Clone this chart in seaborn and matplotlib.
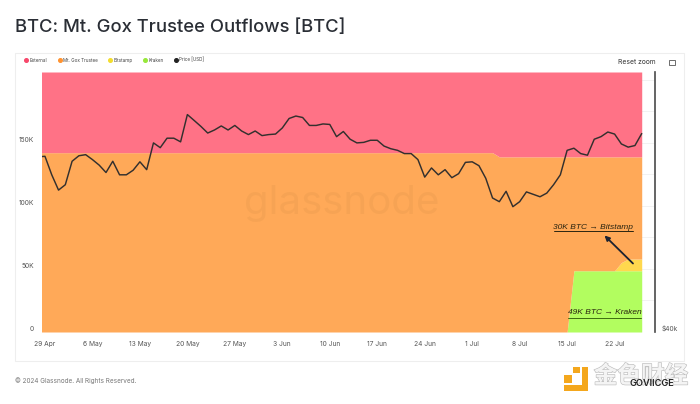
import matplotlib
matplotlib.use("Agg")
import matplotlib.pyplot as plt
from matplotlib.lines import Line2D
from matplotlib.patches import Rectangle
import matplotlib.patheffects as pe
import seaborn as sns
import pandas as pd

dates = pd.date_range("2024-04-28", "2024-07-26", freq="D")
price_k = [65.3, 65.4, 62.1, 59.5, 60.4, 64.5, 65.5, 65.7, 64.8, 63.8, 62.5, 64.5, 62.1, 62.1, 62.9, 64.4, 63.0,
           67.9, 67.0, 68.8, 68.8, 68.1, 73.5, 72.3, 71.1, 69.8, 70.4, 71.2, 70.4, 71.3, 70.2, 69.5, 70.2, 69.3,
           69.5, 69.6, 70.8, 72.7, 73.2, 72.9, 71.3, 71.3, 71.6, 71.5, 69.1, 70.1, 68.6, 67.9, 68.0, 68.4, 68.4,
           67.3, 66.8, 66.5, 65.9, 65.9, 64.8, 61.7, 63.3, 62.1, 63.0, 61.6, 62.3, 64.3, 64.4, 63.7, 61.5, 58.2,
           57.6, 59.3, 56.8, 57.6, 59.2, 58.8, 58.4, 59.0, 60.4, 62.1, 66.5, 66.9, 65.9, 65.6, 68.6, 69.1, 70.0,
           69.6, 67.7, 67.1, 67.4, 69.7]
kraken_k = [0.0] * 79 + [48.6] * 11
bitstamp_k = [0.0] * 86 + [6.5, 9.3, 9.3, 9.3]
gox_k = [142.3] * 68 + [139.0] * 11 + [90.4] * 7 + [83.9, 81.1, 81.1, 81.1]
external_k = [64.0] * 68 + [67.3] * 22

x_ticks = pd.date_range("2024-04-29", "2024-07-22", freq="7D")
x_labels = ["29 Apr", "6 May", "13 May", "20 May", "27 May", "3 Jun", "10 Jun", "17 Jun", "24 Jun", "1 Jul", "8 Jul", "15 Jul", "22 Jul"]
y_ticks = [0, 50, 100, 150]
y_labels = ["0", "50K", "100K", "150K"]
series_names = ["External", "Mt. Gox Trustee", "Bitstamp", "Kraken", "Price [USD]"]
legend_colors = ["#f7476b", "#ff9330", "#f3dd2e", "#97e83a", "#222222"]

W, H = 700, 404
sns.set_theme(style="white")
plt.rcParams["font.family"] = ["Inter", "DejaVu Sans"]
plt.rcParams["ytick.alignment"] = "bottom"
fig = plt.figure(figsize=(7, 4.04), dpi=100, facecolor="white")

def fx(x): return x / W
def fy(y): return 1 - y / H

fig.add_artist(Rectangle((fx(15), fy(361)), 669 / W, 308 / H, transform=fig.transFigure, fc="white", ec="#eeeeee", lw=0.8, zorder=-5))

ax = fig.add_axes([fx(42), fy(332), 613 / W, 260 / H])
ax.patch.set_alpha(0)
ax.set_axisbelow(True)
ax.set_yticks([25, 75, 125, 175, 200], minor=True)
ax.grid(which="both", axis="y", color="#f0f0f0", lw=0.6)
ax.stackplot(dates, kraken_k, bitstamp_k, gox_k, external_k,
             colors=["#b2fd5f", "#ffd84e", "#ffa958", "#ff7286"], lw=0, zorder=2)
ax.set_ylim(0, 206.3)
ax.set_xlim(pd.Timestamp("2024-04-28 13:30"), pd.Timestamp("2024-07-27 23:00"))
ax.set_xticks(x_ticks)
ax.set_xticklabels(x_labels)
ax.set_yticks(y_ticks)
ax.set_yticklabels(y_labels)
ax.tick_params(axis="both", which="both", length=0, labelsize=4.8, labelcolor="#555555")
ax.tick_params(axis="x", pad=6.5)
ax.tick_params(axis="y", pad=6)
for s in ["top", "left", "bottom", "right"]:
    ax.spines[s].set_visible(False)

ax2 = ax.twinx()
price_df = pd.DataFrame({"date": dates, "price": [p * 1000 for p in price_k]})
sns.lineplot(data=price_df, x="date", y="price", ax=ax2, color="#33302e", lw=1.05, zorder=5)
ax2.set_yscale("log")
ax2.set_ylim(40000, 82800)
ax2.set_yticks([40000])
ax2.set_yticklabels(["$40k"])
ax2.minorticks_off()
ax2.set_xlabel("")
ax2.set_ylabel("")
ax2.tick_params(axis="y", which="both", length=0, labelsize=4.8, labelcolor="#555555", pad=5)
for s in ["top", "left", "bottom"]:
    ax2.spines[s].set_visible(False)
ax2.spines["right"].set_visible(True)
ax2.spines["right"].set_color("#4a4a4a")
ax2.spines["right"].set_linewidth(1.2)

handles = [Line2D([], [], ls="", marker="o", ms=2.6, color=c) for c in legend_colors]
fig.legend(handles, series_names, loc="center left", bbox_to_anchor=(fx(22.5), fy(60)), ncols=5, frameon=False,
           fontsize=3.3, labelcolor="#444444", handletextpad=-0.1, columnspacing=1.8, handlelength=1.7, borderpad=0, borderaxespad=0)

fig.text(fx(15), fy(27), "BTC: Mt. Gox Trustee Outflows [BTC]", fontsize=13.3, fontweight=500, color="#2a2e35", va="center", ha="left")
fig.text(fx(342), fy(203), "glassnode", fontsize=29, color="#8a5a20", alpha=0.07, ha="center", va="center", zorder=6)
fig.text(fx(15), fy(380.5), "© 2024 Glassnode. All Rights Reserved.", fontsize=4.6, color="#777777", va="center")
fig.text(fx(637), fy(62), "Reset zoom", fontsize=4.8, color="#333333", ha="center", va="center")
fig.add_artist(Rectangle((fx(669), fy(65)), 6 / W, 5 / H, transform=fig.transFigure, fc="none", ec="#555555", lw=0.6))

note = dict(fontsize=6.0, style="italic", color="#2a2410", ha="center", va="center", family=["Liberation Sans", "DejaVu Sans"], zorder=8)
fig.text(fx(593), fy(227), "30K BTC → Bitstamp", **note)
fig.text(fx(605), fy(313), "49K BTC → Kraken", **note)
fig.add_artist(Line2D([fx(554), fx(633)], [fy(231.5), fy(231.5)], color="#2a2410", lw=0.7, zorder=8))
fig.add_artist(Line2D([fx(568), fx(641)], [fy(318), fy(318)], color="#3d6b10", lw=0.7, zorder=8))
ax2.annotate("", xy=(fx(604.5), fy(235.5)), xytext=(fx(633), fy(263.5)), xycoords="figure fraction", textcoords="figure fraction",
             arrowprops=dict(arrowstyle="-|>", color="#1c2230", lw=1.3, mutation_scale=7, shrinkA=0, shrinkB=0), zorder=8)

logo = "#f4a71d"
fig.add_artist(Rectangle((fx(581.5), fy(391)), 6.5 / W, 24 / H, transform=fig.transFigure, fc=logo, ec="none"))
fig.add_artist(Rectangle((fx(564), fy(391)), 24 / W, 6 / H, transform=fig.transFigure, fc=logo, ec="none"))
fig.add_artist(Rectangle((fx(573), fy(373)), 6.5 / W, 6 / H, transform=fig.transFigure, fc=logo, ec="none"))
fig.add_artist(Rectangle((fx(564), fy(383)), 7.5 / W, 8 / H, transform=fig.transFigure, fc=logo, ec="none"))
fig.text(fx(641), fy(376), "金色财经", fontsize=17, fontweight="bold", color="#f4f4f4", ha="center", va="center",
         family=["Noto Sans CJK SC", "DejaVu Sans"], path_effects=[pe.withStroke(linewidth=0.9, foreground="#bdbdbd")], zorder=9)
fig.text(fx(652), fy(384), "GOVIICGE", fontsize=6.6, fontweight=600, color="#222222", ha="center", va="center", zorder=10)

fig.savefig("out.png", dpi=100)
